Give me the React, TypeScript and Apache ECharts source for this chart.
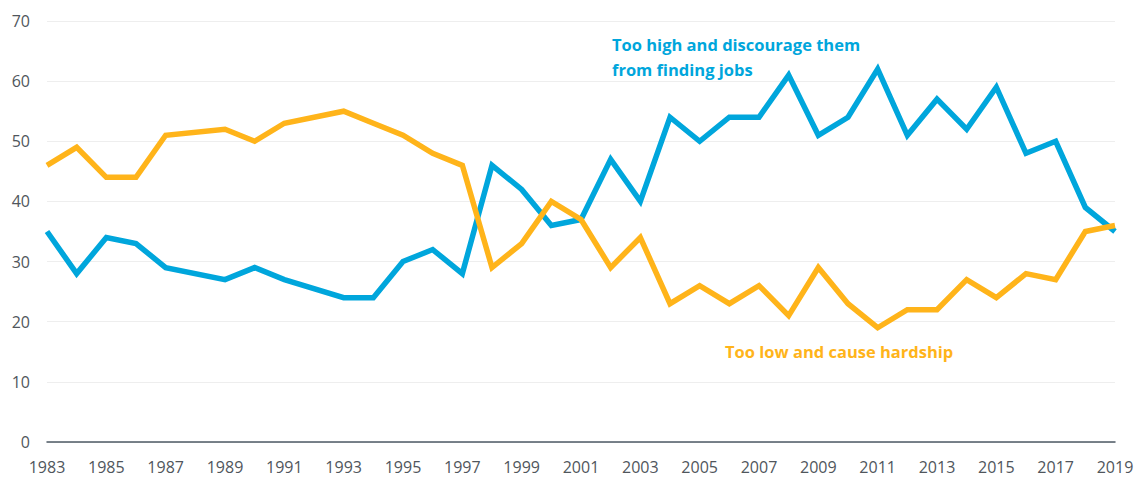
import React, { useEffect, useRef } from "react";
import * as echarts from "echarts";

const years: string[] = [];
for (let y = 1983; y <= 2019; y++) years.push(String(y));

const tooHigh: (number | null)[] = [
  35, 28, 34, 33, 29, null, 27, 29, 27, null, 24, 24, 30, 32, 28, 46, 42, 36, 37,
  47, 40, 54, 50, 54, 54, 61, 51, 54, 62, 51, 57, 52, 59, 48, 50, 39, 35,
];
const tooLow: (number | null)[] = [
  46, 49, 44, 44, 51, null, 52, 50, 53, null, 55, 53, 51, 48, 46, 29, 33, 40, 37,
  29, 34, 23, 26, 23, 26, 21, 29, 23, 19, 22, 22, 27, 24, 28, 27, 35, 36,
];

const highLabel = ["Too high and discourage them", "from finding jobs"];
const lowLabel = "Too low and cause hardship";

const BLUE = "#00a6dc";
const ORANGE = "#ffb41a";
const FONT = "'Open Sans', 'Noto Sans', sans-serif";

export default function App() {
  const ref = useRef<HTMLDivElement>(null);
  useEffect(() => {
    if (!ref.current) return;
    const chart = echarts.init(ref.current, undefined, { renderer: "svg" });
    chart.setOption({
      animation: false,
      backgroundColor: "#ffffff",
      grid: { left: 47, right: 28, top: 21, bottom: 35, containLabel: false },
      xAxis: {
        type: "category",
        data: years,
        boundaryGap: false,
        axisLine: { show: true, lineStyle: { color: "#4d5964", width: 1.5 } },
        axisTick: { show: false },
        axisLabel: {
          interval: 1,
          color: "#50565c",
          fontSize: 16,
          fontFamily: FONT,
          margin: 17,
        },
        splitLine: { show: false },
      },
      yAxis: {
        type: "value",
        min: 0,
        max: 70,
        interval: 10,
        axisLine: { show: false },
        axisTick: { show: false },
        axisLabel: {
          color: "#50565c",
          fontSize: 16,
          fontFamily: FONT,
          margin: 17,
        },
        splitLine: { show: true, lineStyle: { color: "#eeeeee", width: 1 } },
      },
      series: [
        {
          type: "line",
          name: "Too high",
          data: tooHigh,
          connectNulls: true,
          showSymbol: false,
          lineStyle: { color: BLUE, width: 5.5, join: "miter" },
          itemStyle: { color: BLUE },
        },
        {
          type: "line",
          name: "Too low",
          data: tooLow,
          connectNulls: true,
          showSymbol: false,
          lineStyle: { color: ORANGE, width: 5.5, join: "miter" },
          itemStyle: { color: ORANGE },
        },
      ],
      graphic: [
        {
          type: "text",
          left: 612,
          top: 32,
          style: {
            text: highLabel.join("\n"),
            fill: BLUE,
            font: `bold 16.5px ${FONT}`,
            lineHeight: 25,
          },
        },
        {
          type: "text",
          left: 725,
          top: 340,
          style: {
            text: lowLabel,
            fill: ORANGE,
            font: `bold 16.5px ${FONT}`,
            lineHeight: 23,
          },
        },
      ],
    });
    return () => chart.dispose();
  }, []);
  return (
    <div
      ref={ref}
      style={{ position: "fixed", left: 0, top: 0, width: 1143, height: 477 }}
    />
  );
}
